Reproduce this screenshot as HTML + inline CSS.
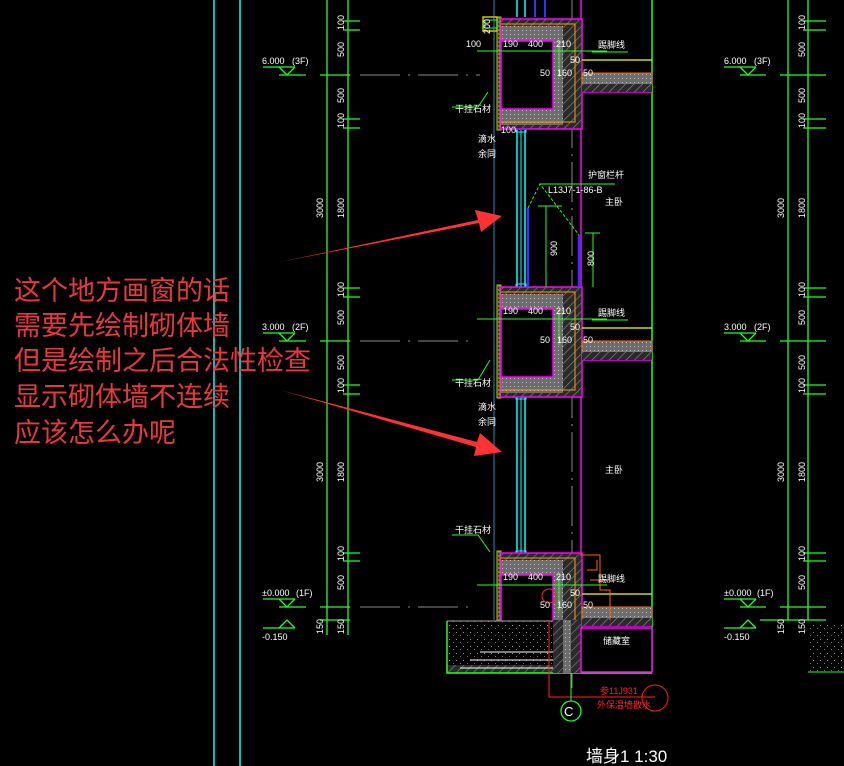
<!DOCTYPE html>
<html><head><meta charset="utf-8"><style>
html,body{margin:0;padding:0;background:#000;width:844px;height:766px;overflow:hidden}
svg{display:block}
.w{fill:#fff;font-family:"Liberation Sans","Noto Sans CJK SC",sans-serif;font-size:9px}
.r{fill:#e8383a;font-family:"Liberation Sans","Noto Sans CJK SC",sans-serif;font-size:27px}
</style></head><body>
<svg width="844" height="766" viewBox="0 0 844 766" xmlns="http://www.w3.org/2000/svg">
<defs>
<pattern id="h" width="6" height="6" patternUnits="userSpaceOnUse" patternTransform="rotate(45)">
<rect width="6" height="6" fill="#2a2a2a"/><line x1="0" y1="0" x2="0" y2="6" stroke="#8a8a8a" stroke-width="1.2"/></pattern>
<pattern id="g" width="4" height="4" patternUnits="userSpaceOnUse">
<rect width="4" height="4" fill="#6d6d6d"/><rect x="1" y="1" width="1" height="1" fill="#bbb"/></pattern>
<pattern id="s" width="7" height="7" patternUnits="userSpaceOnUse">
<rect width="7" height="7" fill="#000"/><rect x="1" y="2" width="1" height="1" fill="#999"/><rect x="5" y="5" width="1" height="1" fill="#777"/></pattern>
<g id="blk">
<rect x="0" y="0" width="4" height="113" fill="#3a3a00" stroke="#c8c800" stroke-width="1"/>
<line x1="2" y1="0" x2="2" y2="113" stroke="#2f2" stroke-dasharray="2 2"/>
<rect x="4" y="2" width="81" height="110" fill="url(#h)"/>
<rect x="4" y="9" width="56" height="15" fill="url(#g)"/>
<rect x="4" y="92" width="56" height="16" fill="url(#g)"/>
<rect x="56" y="9" width="10" height="99" fill="url(#g)"/>
<rect x="4" y="24" width="52" height="68" fill="#000" stroke="#f0f" stroke-width="1.5"/>
<rect x="3" y="2" width="82" height="110" fill="none" stroke="#f0f" stroke-width="1.5"/>
<path d="M4 7 H78 V105 H4" fill="none" stroke="#f90" stroke-width="1"/>
<rect x="85" y="56" width="70" height="11" fill="url(#g)" stroke="#f60" stroke-width="1"/>
<line x1="85" y1="43" x2="155" y2="43" stroke="#ff0" stroke-width="1.2"/>
<line x1="85" y1="75" x2="155" y2="75" stroke="#f0f" stroke-width="1.5"/>
<rect x="85" y="67" width="70" height="8" fill="url(#h)"/>
<line x1="-20" y1="34" x2="110" y2="34" stroke="#2f2"/>
<line x1="62" y1="28" x2="62" y2="60" stroke="#2f2"/>
</g>
<g id="win">
<line x1="517" y1="0" x2="517" y2="158" stroke="#0ff" stroke-width="1.5"/>
<line x1="521" y1="0" x2="521" y2="158" stroke="#0ff" stroke-width="1"/>
<line x1="525" y1="0" x2="525" y2="158" stroke="#0ff" stroke-width="1.5"/>
<rect x="516" y="-4" width="10" height="6" fill="none" stroke="#0ff"/>
<rect x="516" y="154" width="10" height="6" fill="none" stroke="#0ff"/>
</g>
</defs>

<line x1="214" y1="0" x2="214" y2="766" stroke="#0ff" stroke-width="1.5"/>
<line x1="240" y1="0" x2="240" y2="766" stroke="#0ff" stroke-width="1.5"/>

<g stroke="#2f2" stroke-width="1.3">
<line x1="327" y1="0" x2="327" y2="635"/>
<line x1="348" y1="0" x2="348" y2="635"/>
<line x1="320" y1="75" x2="350" y2="75"/><line x1="320" y1="341" x2="350" y2="341"/><line x1="320" y1="607" x2="350" y2="607"/><line x1="320" y1="620" x2="350" y2="620"/>
<line x1="343" y1="21" x2="360" y2="21"/><line x1="343" y1="30" x2="360" y2="30"/>
<line x1="343" y1="119" x2="360" y2="119"/><line x1="343" y1="128" x2="360" y2="128"/>
<line x1="343" y1="288" x2="360" y2="288"/><line x1="343" y1="297" x2="360" y2="297"/>
<line x1="343" y1="385" x2="360" y2="385"/><line x1="343" y1="394" x2="360" y2="394"/>
<line x1="343" y1="553" x2="360" y2="553"/><line x1="343" y1="561" x2="360" y2="561"/>
<line x1="263" y1="67" x2="295" y2="67"/><line x1="279" y1="75" x2="306" y2="75"/><path d="M279 67 L287 75 L295 67" fill="none"/>
<line x1="263" y1="333" x2="295" y2="333"/><line x1="279" y1="341" x2="306" y2="341"/><path d="M279 333 L287 341 L295 333" fill="none"/>
<line x1="263" y1="599" x2="295" y2="599"/><line x1="279" y1="607" x2="306" y2="607"/><path d="M279 599 L287 607 L295 599" fill="none"/>
<line x1="263" y1="628" x2="295" y2="628"/><path d="M279 628 L287 620 L295 628" fill="none"/>
</g>
<g class="w">
<text x="262" y="64">6.000</text><text x="292" y="64">(3F)</text>
<text x="262" y="330">3.000</text><text x="292" y="330">(2F)</text>
<text x="262" y="596">±0.000</text><text x="296" y="596">(1F)</text>
<text x="262" y="640">-0.150</text>
<g transform="rotate(-90)">
<text x="-30" y="344">100</text><text x="-57" y="344">500</text><text x="-103" y="344">500</text><text x="-128" y="344">100</text><text x="-218" y="344">1800</text><text x="-218" y="323">3000</text>
<text x="-297" y="344">100</text><text x="-325" y="344">500</text><text x="-370" y="344">500</text><text x="-393" y="344">100</text><text x="-482" y="344">1800</text><text x="-482" y="323">3000</text>
<text x="-561" y="344">100</text><text x="-590" y="344">500</text><text x="-634" y="344">150</text><text x="-634" y="323">150</text>
</g></g>

<g stroke="#2f2" stroke-width="1.3">
<line x1="788" y1="0" x2="788" y2="620"/>
<line x1="808" y1="0" x2="808" y2="620"/>
<line x1="780" y1="75" x2="826" y2="75"/><line x1="780" y1="341" x2="826" y2="341"/><line x1="780" y1="607" x2="826" y2="607"/><line x1="760" y1="620" x2="826" y2="620"/>
<line x1="803" y1="21" x2="826" y2="21"/><line x1="803" y1="30" x2="826" y2="30"/>
<line x1="803" y1="119" x2="826" y2="119"/><line x1="803" y1="128" x2="826" y2="128"/>
<line x1="803" y1="288" x2="826" y2="288"/><line x1="803" y1="297" x2="826" y2="297"/>
<line x1="803" y1="385" x2="826" y2="385"/><line x1="803" y1="394" x2="826" y2="394"/>
<line x1="803" y1="553" x2="826" y2="553"/><line x1="803" y1="561" x2="826" y2="561"/>
<line x1="724" y1="67" x2="756" y2="67"/><line x1="740" y1="75" x2="766" y2="75"/><path d="M740 67 L748 75 L756 67" fill="none"/>
<line x1="724" y1="333" x2="756" y2="333"/><line x1="740" y1="341" x2="766" y2="341"/><path d="M740 333 L748 341 L756 333" fill="none"/>
<line x1="724" y1="599" x2="756" y2="599"/><line x1="740" y1="607" x2="766" y2="607"/><path d="M740 599 L748 607 L756 599" fill="none"/>
<line x1="724" y1="628" x2="756" y2="628"/><path d="M740 628 L748 620 L756 628" fill="none"/>
</g>
<g class="w">
<text x="724" y="64">6.000</text><text x="754" y="64">(3F)</text>
<text x="724" y="330">3.000</text><text x="754" y="330">(2F)</text>
<text x="724" y="596">±0.000</text><text x="757" y="596">(1F)</text>
<text x="724" y="640">-0.150</text>
<g transform="rotate(-90)">
<text x="-30" y="805">100</text><text x="-57" y="805">500</text><text x="-103" y="805">500</text><text x="-128" y="805">100</text><text x="-218" y="805">1800</text><text x="-218" y="784">3000</text>
<text x="-297" y="805">100</text><text x="-325" y="805">500</text><text x="-370" y="805">500</text><text x="-393" y="805">100</text><text x="-482" y="805">1800</text><text x="-482" y="784">3000</text>
<text x="-561" y="805">100</text><text x="-590" y="805">500</text><text x="-634" y="805">150</text><text x="-634" y="784">150</text>
</g></g>
<rect x="808" y="622" width="36" height="50" fill="url(#s)"/>
<line x1="808" y1="672" x2="844" y2="672" stroke="#2f2"/>

<line x1="652" y1="0" x2="652" y2="672" stroke="#2f2" stroke-width="1.5"/>
<line x1="581" y1="0" x2="581" y2="672" stroke="#f0f" stroke-width="1.5"/>
<line x1="494" y1="0" x2="494" y2="620" stroke="#28c" stroke-width="1"/>
<line x1="572" y1="0" x2="572" y2="690" stroke="#888" stroke-width="1" stroke-dasharray="40 6 2 6"/>
<line x1="360" y1="75" x2="480" y2="75" stroke="#888" stroke-dasharray="40 8 2 8"/>
<line x1="360" y1="341" x2="470" y2="341" stroke="#888" stroke-dasharray="40 8 2 8"/>
<line x1="360" y1="607" x2="470" y2="607" stroke="#888" stroke-dasharray="40 8 2 8"/>

<use href="#win" transform="translate(0,130)"/>
<use href="#win" transform="translate(0,397)"/>
<line x1="517" y1="0" x2="517" y2="17" stroke="#0ff" stroke-width="1.5"/><line x1="525" y1="0" x2="525" y2="17" stroke="#0ff" stroke-width="1.5"/>
<line x1="535" y1="0" x2="535" y2="17" stroke="#33f" stroke-width="2"/><line x1="545" y1="0" x2="545" y2="17" stroke="#33f" stroke-width="2"/>

<use href="#blk" transform="translate(497,17)"/>
<use href="#blk" transform="translate(497,285)"/>
<use href="#blk" transform="translate(497,551)"/>
<rect x="483" y="17" width="14" height="14" fill="none" stroke="#c8c800" stroke-width="1.5"/>
<rect x="485" y="20" width="12" height="8" fill="none" stroke="#2f2"/>

<line x1="528" y1="208" x2="528" y2="287" stroke="#33f" stroke-width="2.5"/>
<line x1="579" y1="235" x2="579" y2="287" stroke="#33f" stroke-width="2.5"/>
<path d="M528 208 L540 184 L579 235" fill="none" stroke="#2f2" stroke-dasharray="3 2"/>
<line x1="540" y1="184" x2="615" y2="184" stroke="#2f2"/>
<line x1="546" y1="206" x2="546" y2="287" stroke="#2f2"/><line x1="538" y1="206" x2="562" y2="206" stroke="#2f2"/>
<line x1="593" y1="233" x2="593" y2="287" stroke="#2f2"/><line x1="585" y1="233" x2="600" y2="233" stroke="#2f2"/>

<rect x="447" y="621" width="110" height="52" fill="url(#s)"/>
<rect x="447" y="665" width="205" height="8" fill="url(#h)"/>
<path d="M447 621 V673 H652" fill="none" stroke="#2f2" stroke-width="1.5"/>
<line x1="447" y1="621" x2="557" y2="621" stroke="#aaa"/>
<path d="M460 668 H555 M480 652 H555 V620 M470 660 H555" fill="none" stroke="#fff" stroke-width="1"/>
<rect x="553" y="620" width="28" height="53" fill="url(#h)"/>
<rect x="563" y="620" width="8" height="53" fill="url(#g)"/>
<rect x="581" y="628" width="71" height="44" fill="#000" stroke="#f0f" stroke-width="1.5"/>
<path d="M549 620 V697 H655" fill="none" stroke="#f22"/>
<circle cx="571" cy="711" r="10" fill="none" stroke="#2f2" stroke-width="1.3"/>
<line x1="571" y1="673" x2="571" y2="701" stroke="#2f2"/>
<circle cx="655" cy="698" r="13" fill="none" stroke="#f22"/>
<circle cx="549" cy="596" r="7" fill="none" stroke="#f22"/>
<path d="M580 555 H600 V590 H610 V620 M587 570 H597 V560 M590 580 H608" fill="none" stroke="#f60"/>

<g class="w">
<text x="486" y="30" transform="rotate(-90 490 30)">200</text>
<text x="466" y="47">100</text><text x="503" y="47">190</text><text x="528" y="47">400</text><text x="556" y="47">210</text>
<text x="570" y="63">50</text><text x="540" y="76">50</text><text x="557" y="76">160</text><text x="583" y="76">50</text>
<text x="501" y="133">100</text>
<text x="598" y="48">踢脚线</text><text x="455" y="112">干挂石材</text><text x="478" y="142">滴水</text><text x="478" y="157">余同</text>
<text x="588" y="178">护窗栏杆</text><text x="548" y="193">L13J7-1-86-B</text><text x="605" y="205">主卧</text>
<text x="550" y="255" transform="rotate(-90 554 252)">900</text><text x="586" y="266" transform="rotate(-90 590 262)">800</text>
<text x="503" y="314">190</text><text x="528" y="314">400</text><text x="556" y="314">210</text>
<text x="570" y="330">50</text><text x="540" y="343">50</text><text x="557" y="343">160</text><text x="583" y="343">50</text>
<text x="598" y="316">踢脚线</text><text x="455" y="386">干挂石材</text><text x="478" y="410">滴水</text><text x="478" y="425">余同</text>
<text x="605" y="473">主卧</text><text x="455" y="533">干挂石材</text>
<text x="503" y="580">190</text><text x="528" y="580">400</text><text x="556" y="580">210</text>
<text x="570" y="596">50</text><text x="540" y="608">50</text><text x="557" y="608">160</text><text x="583" y="608">50</text>
<text x="598" y="582">踢脚线</text><text x="603" y="644">储藏室</text>
<text x="564" y="716" style="font-size:13px">C</text>
<text x="586" y="762" style="font-size:17px">墙身1 1:30</text>
</g>
<text x="600" y="694" style="fill:#f22;font-size:9px;font-family:'Liberation Sans','Noto Sans CJK SC',sans-serif">参11J931</text>
<text x="597" y="708" style="fill:#f22;font-size:9px;font-family:'Liberation Sans','Noto Sans CJK SC',sans-serif">外保温墙散水</text>
<g stroke="#2f2" fill="none"><path d="M452 107 H478 L488 92"/><path d="M452 380 H478 L490 360"/><path d="M452 535 H478 L490 552"/><path d="M592 52 H628"/><path d="M592 320 H628"/></g>

<g class="r">
<text x="14" y="300">这个地方画窗的话</text>
<text x="14" y="335">需要先绘制砌体墙</text>
<text x="14" y="370">但是绘制之后合法性检查</text>
<text x="14" y="406">显示砌体墙不连续</text>
<text x="14" y="442">应该怎么办呢</text>
</g>
<path d="M280 262 L478 220 L475 210 L502 216 L481 232 L479 223 Z" fill="#f33"/>
<path d="M280 390 L477 442 L480 433 L502 452 L474 456 L476 447 Z" fill="#f33"/>
</svg>
</body></html>
